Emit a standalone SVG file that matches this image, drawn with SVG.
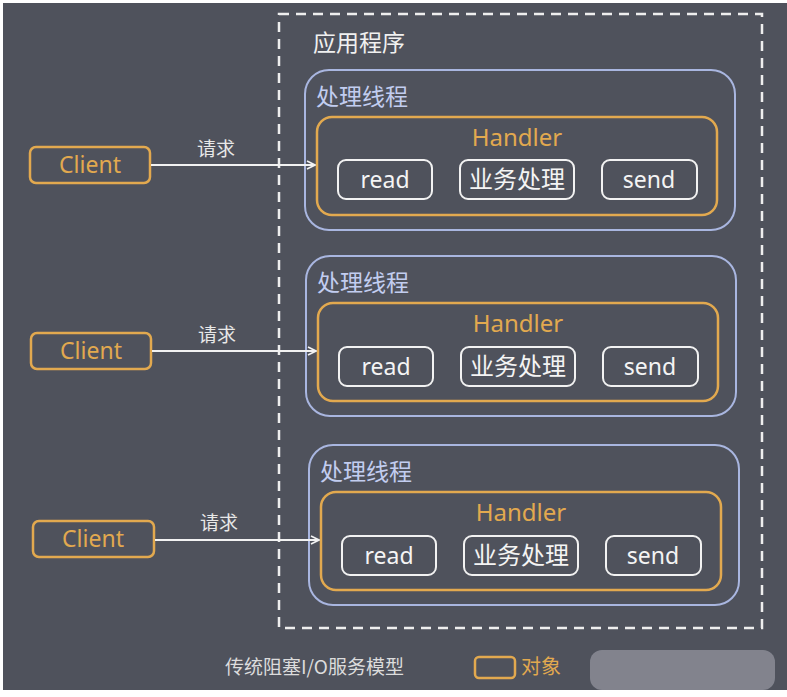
<svg xmlns="http://www.w3.org/2000/svg" width="787" height="697" viewBox="0 0 787 697">
<defs>
<style>
.bg{fill:#4f525c}
.cjk{font-family:"Noto Sans CJK SC","Noto Sans",sans-serif}
.lat{font-family:"Noto Sans","Open Sans",sans-serif}
.outer{fill:none;stroke:#eeeeee;stroke-width:2.5;stroke-dasharray:10 7}
.thread{fill:none;stroke:#a9b6e0;stroke-width:2}
.handler{fill:none;stroke:#e2a94f;stroke-width:2.5}
.op{fill:none;stroke:#f2f2f2;stroke-width:2}
.client{fill:none;stroke:#e2a94f;stroke-width:2.5}
.tthread{fill:#c2cdf0;font-size:23px}
.thandler{fill:#e2a94f;font-size:24px;text-anchor:middle}
.top{fill:#f4f4f4;font-size:23px;text-anchor:middle}
.tbiz{fill:#f4f4f4;font-size:24px;text-anchor:middle}
.tclient{fill:#e2a94f;font-size:23px;text-anchor:middle}
.treq{fill:#e8e8e8;font-size:19px;text-anchor:middle}
.conn{stroke:#f2f2f2;stroke-width:2;fill:none}
</style>
<marker id="arr" viewBox="0 0 10 10" refX="9" refY="5" markerWidth="10" markerHeight="10" markerUnits="userSpaceOnUse" orient="auto">
<path d="M1,1 L9,5 L1,9" fill="none" stroke="#f2f2f2" stroke-width="1.6"/>
</marker>
</defs>
<rect x="0" y="0" width="787" height="697" fill="#ffffff"/>
<rect class="bg" x="3" y="3" width="784" height="687"/>

<g id="app">
<rect class="outer" x="279" y="14" width="483" height="614"/>
<text class="cjk" x="313" y="51" fill="#f0f0f0" font-size="23">应用程序</text>
</g>

<g id="thread1">
<rect class="thread" x="305" y="70" width="430" height="160" rx="24"/>
<text class="cjk tthread" x="316" y="105">处理线程</text>
<g id="handler1">
<rect class="handler" x="317" y="117" width="400" height="98" rx="15"/>
<text class="lat thandler" x="517" y="146">Handler</text>
<rect class="op" x="338" y="160" width="94" height="39" rx="8"/>
<text class="lat top" x="385" y="188">read</text>
<rect class="op" x="460" y="160" width="114" height="39" rx="8"/>
<text class="cjk tbiz" x="517" y="188">业务处理</text>
<rect class="op" x="602" y="160" width="95" height="39" rx="8"/>
<text class="lat top" x="649" y="188">send</text>
</g>
</g>

<g id="thread2">
<rect class="thread" x="306" y="256" width="430" height="160" rx="24"/>
<text class="cjk tthread" x="317" y="291">处理线程</text>
<g id="handler2">
<rect class="handler" x="318" y="303" width="400" height="98" rx="15"/>
<text class="lat thandler" x="518" y="332">Handler</text>
<rect class="op" x="339" y="347" width="94" height="39" rx="8"/>
<text class="lat top" x="386" y="375">read</text>
<rect class="op" x="461" y="347" width="114" height="39" rx="8"/>
<text class="cjk tbiz" x="518" y="375">业务处理</text>
<rect class="op" x="603" y="347" width="95" height="39" rx="8"/>
<text class="lat top" x="650" y="375">send</text>
</g>
</g>

<g id="thread3">
<rect class="thread" x="309" y="445" width="430" height="160" rx="24"/>
<text class="cjk tthread" x="320" y="480">处理线程</text>
<g id="handler3">
<rect class="handler" x="321" y="492" width="400" height="98" rx="15"/>
<text class="lat thandler" x="521" y="521">Handler</text>
<rect class="op" x="342" y="536" width="94" height="39" rx="8"/>
<text class="lat top" x="389" y="564">read</text>
<rect class="op" x="464" y="536" width="114" height="39" rx="8"/>
<text class="cjk tbiz" x="521" y="564">业务处理</text>
<rect class="op" x="606" y="536" width="95" height="39" rx="8"/>
<text class="lat top" x="653" y="564">send</text>
</g>
</g>

<g id="client1">
<rect class="client" x="30" y="147" width="120" height="36" rx="6"/>
<text class="lat tclient" x="90" y="173">Client</text>
</g>
<g id="client2">
<rect class="client" x="31" y="333" width="120" height="36" rx="6"/>
<text class="lat tclient" x="91" y="359">Client</text>
</g>
<g id="client3">
<rect class="client" x="33" y="521" width="121" height="36" rx="6"/>
<text class="lat tclient" x="93" y="547">Client</text>
</g>

<g id="connectors">
<line class="conn" x1="151" y1="165" x2="315" y2="165" marker-end="url(#arr)"/>
<text class="cjk treq" x="216" y="156">请求</text>
<line class="conn" x1="152" y1="351" x2="316" y2="351" marker-end="url(#arr)"/>
<text class="cjk treq" x="217" y="342">请求</text>
<line class="conn" x1="155" y1="540" x2="319" y2="540" marker-end="url(#arr)"/>
<text class="cjk treq" x="219" y="530">请求</text>
</g>

<g id="legend">
<text class="cjk" x="225" y="674" fill="#dcdcdc" font-size="19">传统阻塞I/O服务模型</text>
<rect x="475" y="657" width="40" height="21" rx="4" fill="none" stroke="#e2a94f" stroke-width="2.5"/>
<text class="cjk" x="521" y="674" fill="#e2a94f" font-size="20">对象</text>
<rect x="590" y="650" width="185" height="40" rx="12" fill="#8e909a" opacity="0.8"/>
</g>
</svg>
